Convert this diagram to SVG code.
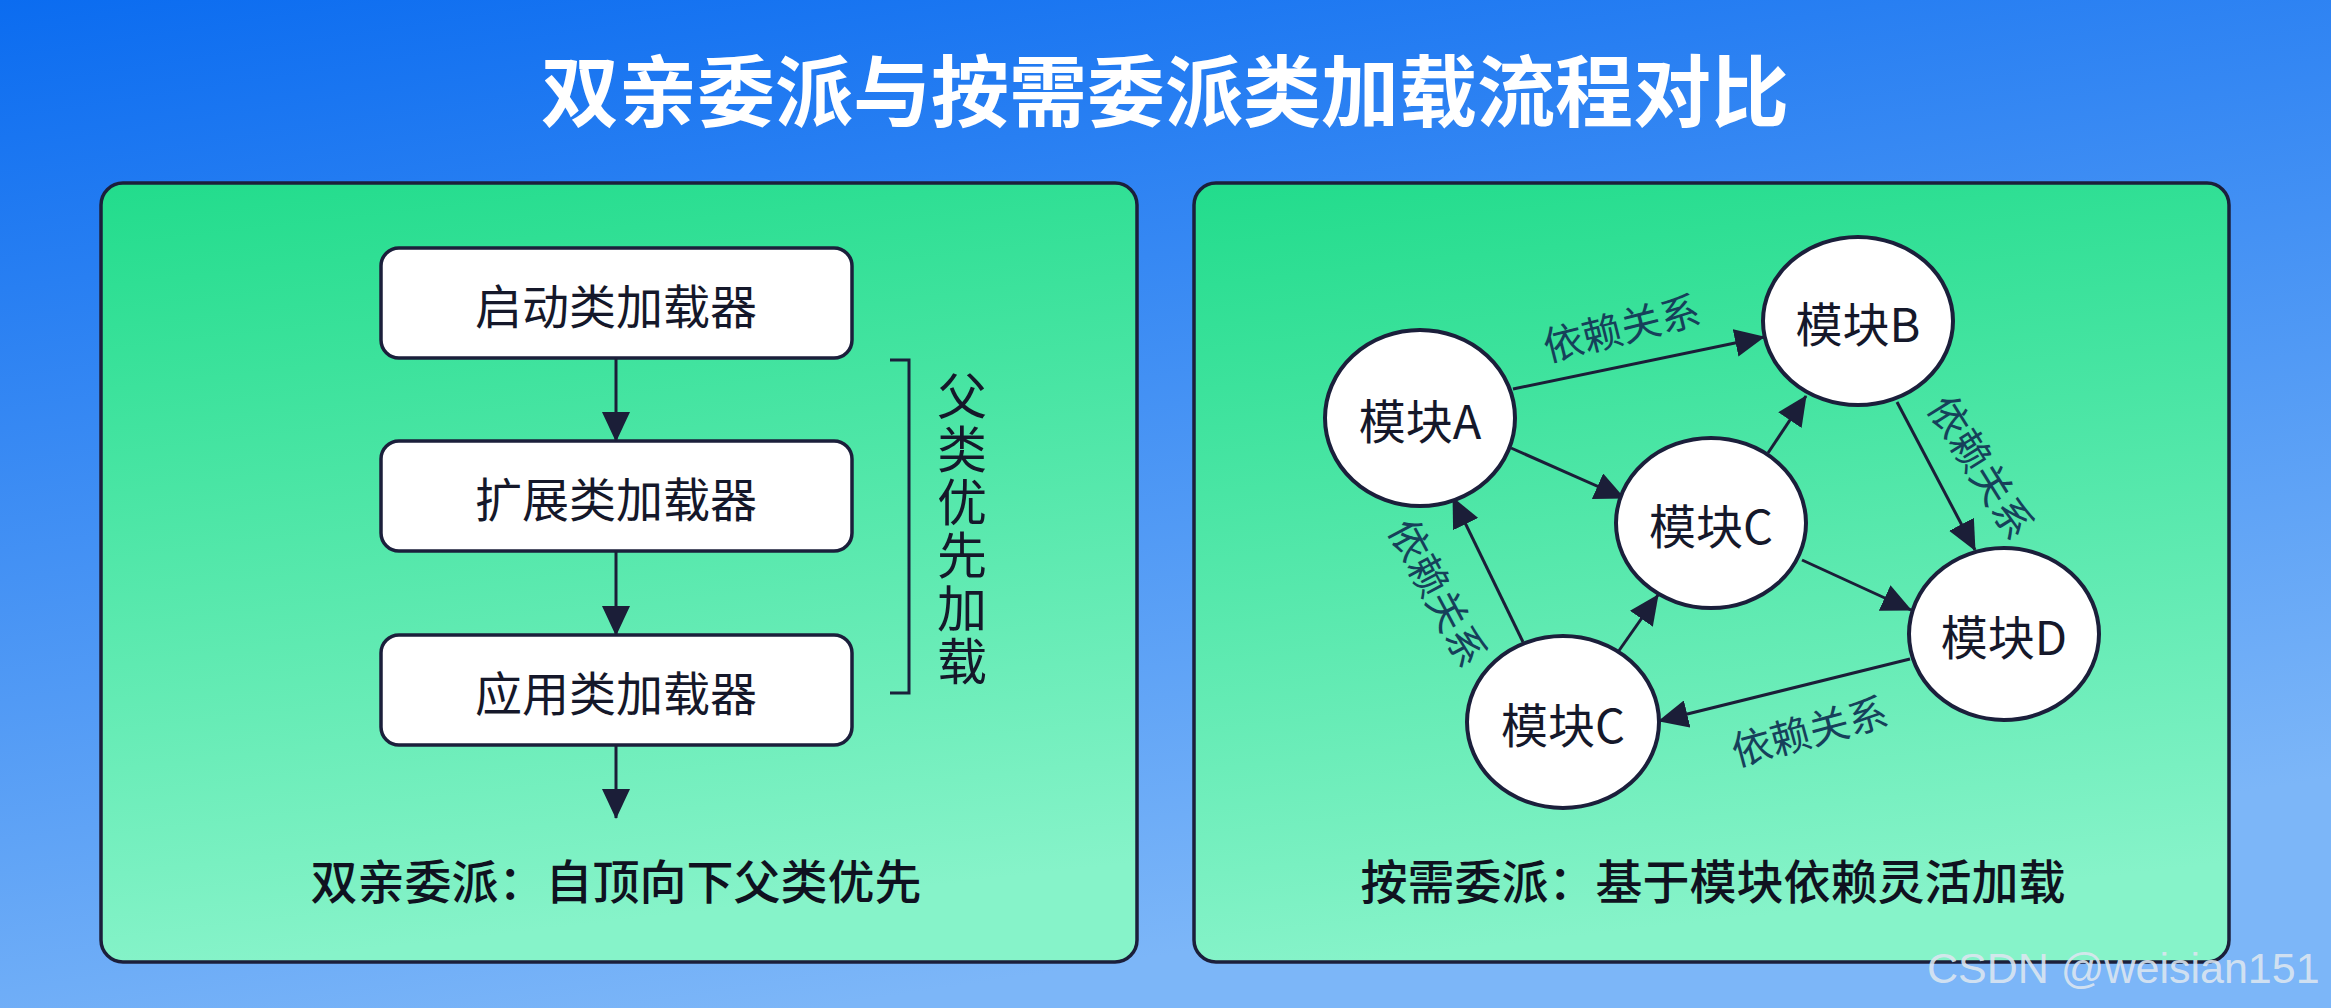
<svg xmlns="http://www.w3.org/2000/svg" width="2331" height="1008" viewBox="0 0 2331 1008">
  <defs>
    <linearGradient id="bg" x1="0" y1="0" x2="0.35" y2="1">
      <stop offset="0" stop-color="#0b6cf0"/>
      <stop offset="1" stop-color="#7cb6f8"/>
    </linearGradient>
    <linearGradient id="panel" x1="0" y1="0" x2="0.15" y2="1">
      <stop offset="0" stop-color="#22dc8c"/>
      <stop offset="1" stop-color="#86f3c9"/>
    </linearGradient>
    <marker id="ah" markerUnits="userSpaceOnUse" markerWidth="30" markerHeight="28" refX="29" refY="14" orient="auto">
      <path d="M0,0 L30,14 L0,28 z" fill="#1b1e38"/>
    </marker>
    <style>
      .panel { fill: url(#panel); stroke: #1b1f3b; stroke-width: 3.5; }
      .box { fill: #ffffff; stroke: #1b1f3b; stroke-width: 3.5; }
      .node { fill: #ffffff; stroke: #1b1f3b; stroke-width: 4; }
      .cjk { font-family: "Noto Sans CJK SC", "Noto Sans", sans-serif; }
      .boxtxt { font-size: 47px; fill: #15182a; text-anchor: middle; dominant-baseline: central; }
      .nodetxt { font-size: 47px; fill: #15182a; text-anchor: middle; dominant-baseline: central; }
      .lbl { font-size: 40px; fill: #16405a; text-anchor: middle; dominant-baseline: central; }
      .cap { font-size: 47px; fill: #0f1220; text-anchor: middle; font-weight: 500; }
      .edge { stroke: #1b1e38; stroke-width: 3; fill: none; marker-end: url(#ah); }
    </style>
  </defs>

  <rect x="0" y="0" width="2331" height="1008" fill="url(#bg)"/>

  <text class="cjk" x="1165" y="121" font-size="78" font-weight="700" fill="#ffffff" text-anchor="middle">双亲委派与按需委派类加载流程对比</text>

  <!-- Left panel -->
  <g id="panel-left">
    <rect class="panel" x="101" y="183" width="1036" height="779" rx="22"/>
  </g>
  <g id="node-bootstrap">
    <rect class="box" x="381" y="248" width="471" height="110" rx="18"/>
    <text class="cjk boxtxt" x="616" y="303">启动类加载器</text>
  </g>
  <g id="node-extension">
    <rect class="box" x="381" y="441" width="471" height="110" rx="18"/>
    <text class="cjk boxtxt" x="616" y="496">扩展类加载器</text>
  </g>
  <g id="node-application">
    <rect class="box" x="381" y="635" width="471" height="110" rx="18"/>
    <text class="cjk boxtxt" x="616" y="690">应用类加载器</text>
  </g>
  <g id="bracket">
    <path d="M890,360 L909,360 L909,693 L890,693" fill="none" stroke="#1b1f3b" stroke-width="3"/>
    <text class="cjk" x="962" y="371" font-size="50" fill="#15182a" writing-mode="vertical-rl" letter-spacing="3">父类优先加载</text>
  </g>
  <text class="cjk cap" x="616" y="899">双亲委派：自顶向下父类优先</text>

  <!-- Right panel -->
  <g id="panel-right">
    <rect class="panel" x="1194" y="183" width="1035" height="779" rx="22"/>
  </g>

  <g id="connectors">
    <line class="edge" x1="616" y1="358" x2="616" y2="441"/>
    <line class="edge" x1="616" y1="551" x2="616" y2="635"/>
    <line class="edge" x1="616" y1="745" x2="616" y2="818"/>

    <line class="edge" x1="1513" y1="389" x2="1764" y2="337"/>
    <line class="edge" x1="1511" y1="448" x2="1624" y2="498"/>
    <line class="edge" x1="1768" y1="453" x2="1806" y2="396"/>
    <line class="edge" x1="1897" y1="402" x2="1975" y2="550"/>
    <line class="edge" x1="1802" y1="560" x2="1911" y2="610"/>
    <line class="edge" x1="1910" y1="659" x2="1659" y2="721"/>
    <line class="edge" x1="1618" y1="652" x2="1658" y2="595"/>
    <line class="edge" x1="1523" y1="642" x2="1453" y2="498"/>

    <text class="cjk lbl" transform="translate(1621,326) rotate(-14)">依赖关系</text>
    <text class="cjk lbl" transform="translate(1983,466) rotate(58)">依赖关系</text>
    <text class="cjk lbl" transform="translate(1809,729) rotate(-15)">依赖关系</text>
    <text class="cjk lbl" transform="translate(1440,592) rotate(62)">依赖关系</text>
  </g>

  <g id="node-a">
    <ellipse class="node" cx="1420" cy="418" rx="95" ry="88"/>
    <text class="cjk nodetxt" x="1420" y="418">模块A</text>
  </g>
  <g id="node-b">
    <ellipse class="node" cx="1858" cy="321" rx="95" ry="84"/>
    <text class="cjk nodetxt" x="1858" y="321">模块B</text>
  </g>
  <g id="node-c-mid">
    <ellipse class="node" cx="1711" cy="523" rx="95" ry="85"/>
    <text class="cjk nodetxt" x="1711" y="523">模块C</text>
  </g>
  <g id="node-d">
    <ellipse class="node" cx="2004" cy="634" rx="95" ry="86"/>
    <text class="cjk nodetxt" x="2004" y="634">模块D</text>
  </g>
  <g id="node-c-bottom">
    <ellipse class="node" cx="1563" cy="722" rx="96" ry="86"/>
    <text class="cjk nodetxt" x="1563" y="722">模块C</text>
  </g>

  <text class="cjk cap" x="1713" y="899">按需委派：基于模块依赖灵活加载</text>

  <text x="1927" y="983" font-family="Liberation Sans, Arial, sans-serif" font-size="43" fill="#dde6f0" fill-opacity="0.9">CSDN @weisian151</text>
</svg>
